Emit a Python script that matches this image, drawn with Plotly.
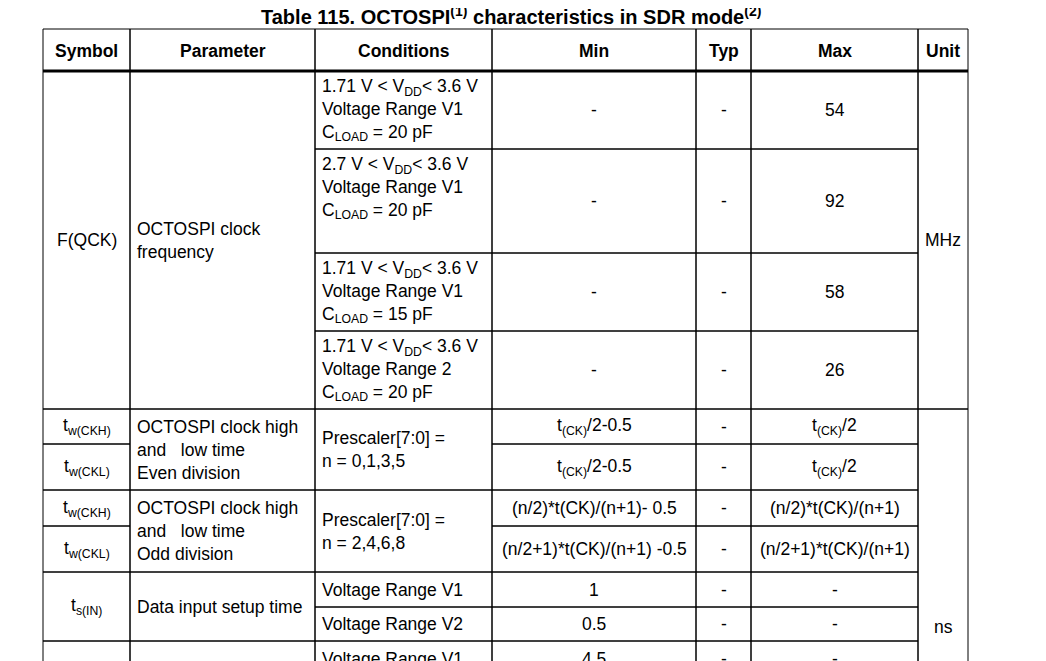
import plotly.graph_objects as go

# table content (text, first row index, end row index) per column
title = "<b>Table 115. OCTOSPI<sup>(1)</sup> characteristics in SDR mode<sup>(2)</sup></b>"
headers = ["Symbol", "Parameter", "Conditions", "Min", "Typ", "Max", "Unit"]

vdd_a = "1.71 V < V<sub>DD</sub>< 3.6 V<br>Voltage Range V1<br>C<sub>LOAD</sub> = 20 pF"
vdd_b = "2.7 V < V<sub>DD</sub>< 3.6 V<br>Voltage Range V1<br>C<sub>LOAD</sub> = 20 pF"
vdd_c = "1.71 V < V<sub>DD</sub>< 3.6 V<br>Voltage Range V1<br>C<sub>LOAD</sub> = 15 pF"
vdd_d = "1.71 V < V<sub>DD</sub>< 3.6 V<br>Voltage Range 2<br>C<sub>LOAD</sub> = 20 pF"

symbol = [("F(QCK)", 1, 5), ("t<sub>w(CKH)</sub>", 5, 6), ("t<sub>w(CKL)</sub>", 6, 7),
          ("t<sub>w(CKH)</sub>", 7, 8), ("t<sub>w(CKL)</sub>", 8, 9),
          ("t<sub>s(IN)</sub>", 9, 11), ("", 11, 12)]
parameter = [("OCTOSPI clock<br>frequency", 1, 5),
             ("OCTOSPI clock high<br>and   low time<br>Even division", 5, 7),
             ("OCTOSPI clock high<br>and   low time<br>Odd division", 7, 9),
             ("Data input setup time", 9, 11), ("", 11, 12)]
conditions = [(vdd_a, 1, 2), (vdd_b, 2, 3), (vdd_c, 3, 4), (vdd_d, 4, 5),
              ("Prescaler[7:0] =<br>n = 0,1,3,5", 5, 7),
              ("Prescaler[7:0] =<br>n = 2,4,6,8", 7, 9),
              ("Voltage Range V1", 9, 10), ("Voltage Range V2", 10, 11),
              ("Voltage Range V1", 11, 12)]
min_vals = ["-", "-", "-", "-", "t<sub>(CK)</sub>/2-0.5", "t<sub>(CK)</sub>/2-0.5",
            "(n/2)*t(CK)/(n+1)- 0.5", "(n/2+1)*t(CK)/(n+1) -0.5", "1", "0.5", "4.5"]
typ_vals = ["-"] * 11
max_vals = ["54", "92", "58", "26", "t<sub>(CK)</sub>/2", "t<sub>(CK)</sub>/2",
            "(n/2)*t(CK)/(n+1)", "(n/2+1)*t(CK)/(n+1)", "-", "-", "-"]
unit = [("MHz", 1, 5), ("ns", 5, 13)]

# layout grid (pixels)
col_x = [43, 130, 315, 492, 696, 751, 918, 968]
row_y = [29, 71, 149, 253, 331, 409, 444, 490, 526, 572, 607, 641, 676, 845]
W, H = 1046, 661
OFF = 8  # page body margin
FONT = "Liberation Sans, Arial, sans-serif"
FS = 17.5

def single(vals):
    return [(v, i + 1, i + 2) for i, v in enumerate(vals)]

columns = [symbol, parameter, conditions, single(min_vals), single(typ_vals),
           single(max_vals), unit]
left_cols = {1, 2}

fig = go.Figure()
shapes, annotations = [], []

for c, cells in enumerate(columns):
    x0, x1 = col_x[c], col_x[c + 1]
    # header
    shapes.append(dict(type="rect", x0=x0, x1=x1, y0=row_y[0], y1=row_y[1],
                       line=dict(color="black", width=1)))
    annotations.append(dict(x=(x0 + x1) / 2, y=(row_y[0] + row_y[1]) / 2 + 1,
                            text="<b>" + headers[c] + "</b>", showarrow=False,
                            font=dict(size=FS, family=FONT, color="black")))
    for text, r0, r1 in cells:
        y0, y1 = row_y[r0], row_y[r1]
        shapes.append(dict(type="rect", x0=x0, x1=x1, y0=y0, y1=y1,
                           line=dict(color="black", width=1)))
        if not text:
            continue
        top = text.startswith(("1.71", "2.7"))
        ann = dict(text=text, showarrow=False, align="left" if c in left_cols else "center",
                   font=dict(size=FS, family=FONT, color="black"))
        if c in left_cols:
            ann.update(x=x0 + 5, xanchor="left")
        else:
            ann.update(x=(x0 + x1) / 2, xanchor="center")
        if top:
            ann.update(y=y0 + 3, yanchor="top")
        else:
            ann.update(y=(y0 + y1) / 2, yanchor="middle")
        annotations.append(ann)

shapes.append(dict(type="line", x0=col_x[0], x1=col_x[-1], y0=row_y[1], y1=row_y[1],
                   line=dict(color="black", width=3)))
annotations.append(dict(x=511, y=15, text=title, showarrow=False,
                        font=dict(size=20, family=FONT, color="black")))

fig.update_layout(width=W, height=H, margin=dict(l=0, r=0, t=0, b=0),
                  plot_bgcolor="white", paper_bgcolor="white",
                  shapes=shapes, annotations=annotations, showlegend=False,
                  xaxis=dict(range=[OFF, W + OFF], visible=False, fixedrange=True),
                  yaxis=dict(range=[H + OFF, OFF], visible=False, fixedrange=True))
fig.write_html("out.html")
